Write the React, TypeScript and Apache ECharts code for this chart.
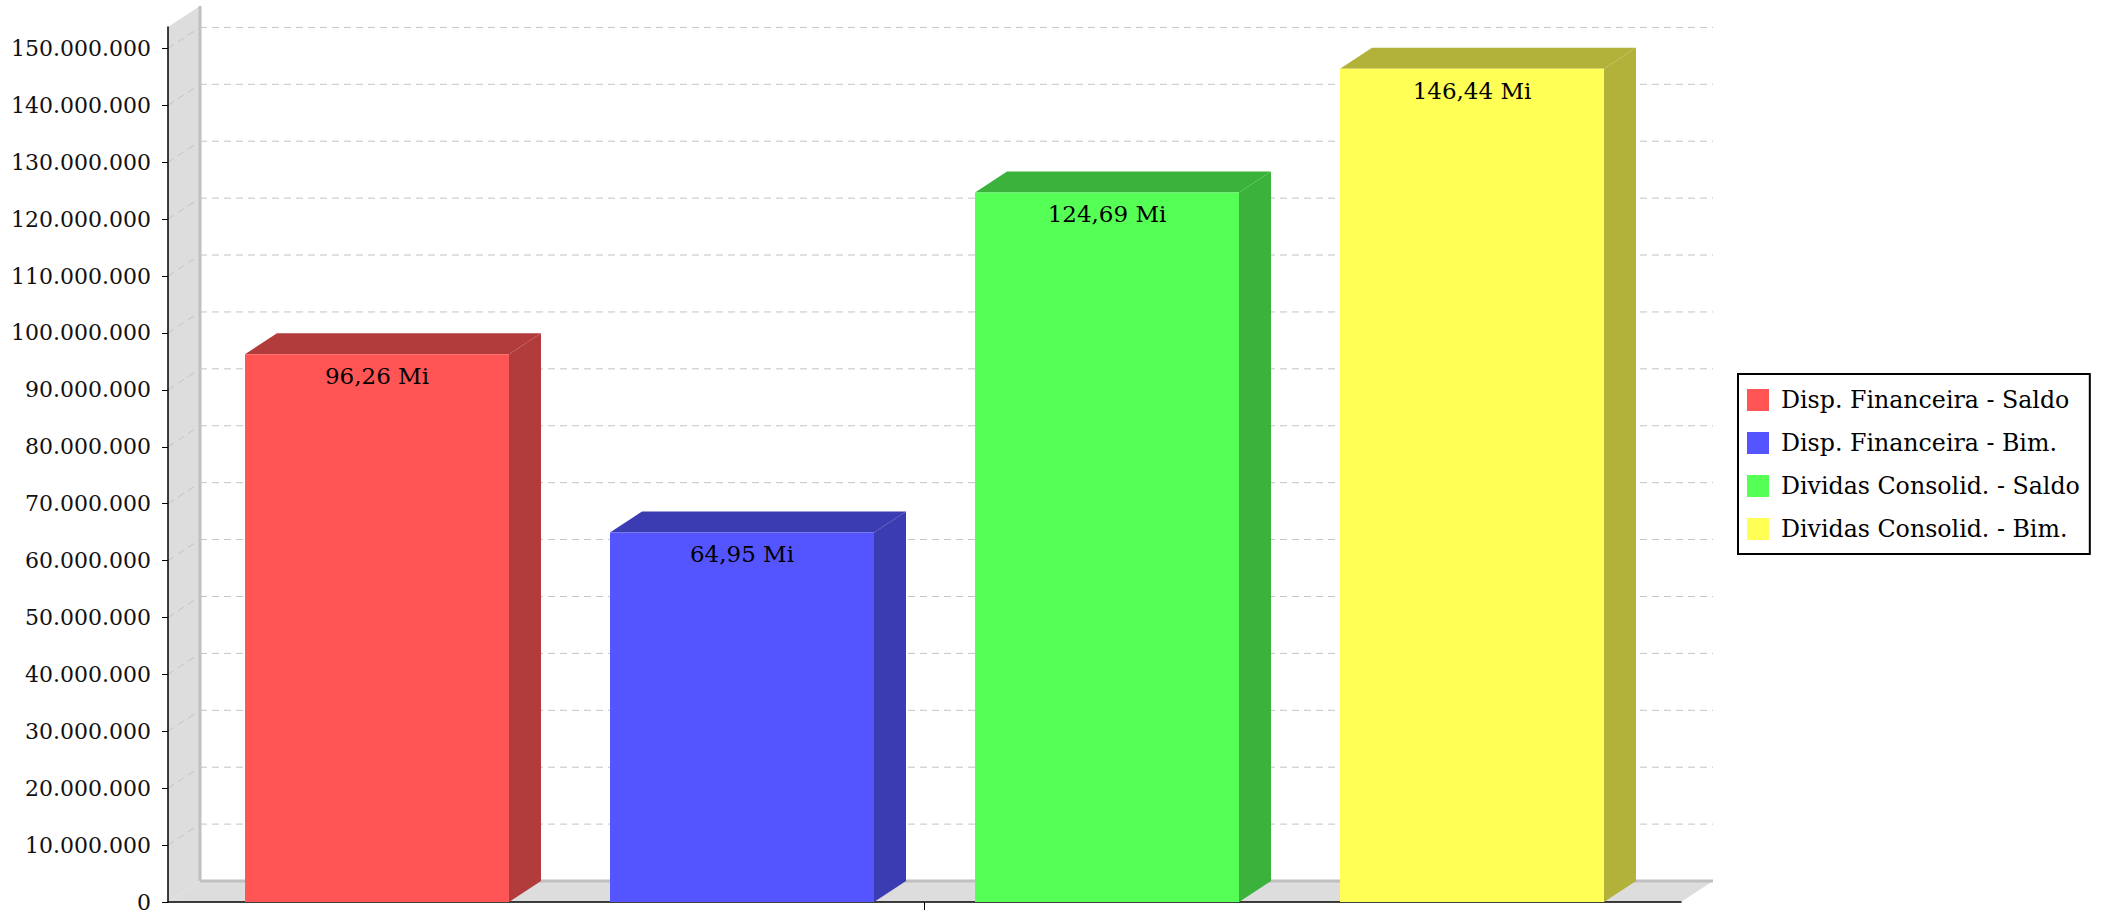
import React, { useEffect, useRef } from "react";
import * as echarts from "echarts";

const categories = [""];
const seriesNames = [
  "Disp. Financeira - Saldo",
  "Disp. Financeira - Bim.",
  "Dividas Consolid. - Saldo",
  "Dividas Consolid. - Bim.",
];
const seriesValues = [96260000, 64950000, 124690000, 146440000];
const seriesColors = ["#FF5555", "#5555FF", "#55FF55", "#FFFF55"];
const sideColors = ["#B23B3B", "#3B3BB2", "#3BB23B", "#B2B23B"];
const yTicks = [
  0, 10000000, 20000000, 30000000, 40000000, 50000000, 60000000, 70000000,
  80000000, 90000000, 100000000, 110000000, 120000000, 130000000, 140000000,
  150000000,
];

const FONT = '"DejaVu Serif", serif';
const DX = 32;
const DY = 21;
const BW = 264;
const GAP = 101;

const fmtThousands = (v: number) =>
  String(Math.round(v)).replace(/\B(?=(\d{3})+(?!\d))/g, ".");
const fmtMi = (v: number) => (v / 1e6).toFixed(2).replace(".", ",") + " Mi";

export default function App() {
  const ref = useRef<HTMLDivElement>(null);
  useEffect(() => {
    if (!ref.current) return;
    const chart = echarts.init(ref.current, null, { renderer: "svg" });
    const yMax = Math.max(...seriesValues) * 1.05;
    const n = seriesValues.length;
    const total = n * BW + (n - 1) * GAP;

    const barSeries = seriesNames.map((name, i) => ({
      name,
      type: "custom",
      z: 2,
      itemStyle: { color: seriesColors[i] },
      encode: { x: 0, y: 1 },
      data: [[0, seriesValues[i]]],
      clip: false,
      renderItem: (params: any, api: any) => {
        const top = api.coord([0, api.value(1)]);
        const base = api.coord([0, 0]);
        const left = top[0] - total / 2 + i * (BW + GAP);
        const right = left + BW;
        const yT = top[1];
        const yB = base[1];
        return {
          type: "group",
          children: [
            {
              type: "polygon",
              shape: { points: [[left, yT], [left + DX, yT - DY], [right + DX, yT - DY], [right, yT]] },
              style: { fill: sideColors[i] },
            },
            {
              type: "polygon",
              shape: { points: [[right, yT], [right + DX, yT - DY], [right + DX, yB - DY], [right, yB]] },
              style: { fill: sideColors[i] },
            },
            {
              type: "rect",
              shape: { x: left, y: yT, width: BW, height: yB - yT },
              style: { fill: seriesColors[i] },
            },
            {
              type: "text",
              x: left + BW / 2,
              y: yT + 22,
              style: {
                text: fmtMi(api.value(1)),
                fill: "#000",
                fontSize: 23,
                fontFamily: FONT,
                align: "center",
                verticalAlign: "middle",
              },
            },
          ],
        };
      },
    }));

    const frameSeries = {
      name: "frame",
      type: "custom",
      z: -1,
      silent: true,
      clip: false,
      encode: { x: 0, y: 1 },
      data: [[0, 0]],
      renderItem: (params: any, api: any) => {
        const cs = params.coordSys;
        const x = cs.x;
        const y = cs.y;
        const w = cs.width;
        const h = cs.height;
        const children: any[] = [
          {
            type: "polygon",
            shape: { points: [[x, y], [x + DX, y - DY], [x + DX, y + h - DY], [x, y + h]] },
            style: { fill: "#DDDDDD" },
          },
          {
            type: "polygon",
            shape: { points: [[x, y + h], [x + DX, y + h - DY], [x + w + DX, y + h - DY], [x + w, y + h]] },
            style: { fill: "#DDDDDD" },
          },
          {
            type: "line",
            shape: { x1: x + DX, y1: y - DY, x2: x + DX, y2: y + h - DY },
            style: { stroke: "#C0C0C0", lineWidth: 3 },
          },
          {
            type: "line",
            shape: { x1: x + DX, y1: y + h - DY, x2: x + w + DX, y2: y + h - DY },
            style: { stroke: "#C0C0C0", lineWidth: 3 },
          },
        ];
        yTicks.forEach((t) => {
          if (t === 0) return;
          const yt = api.coord([0, t])[1];
          children.push({
            type: "line",
            shape: { x1: x + DX, y1: yt - DY, x2: x + w + DX, y2: yt - DY },
            style: { stroke: "#C4C4C4", lineWidth: 1, lineDash: [7, 5] },
          });
          children.push({
            type: "line",
            shape: { x1: x, y1: yt, x2: x + DX, y2: yt - DY },
            style: { stroke: "#C4C4C4", lineWidth: 1, lineDash: [7, 5] },
          });
        });
        return { type: "group", children };
      },
    };

    chart.setOption({
      animation: false,
      backgroundColor: "#FFFFFF",
      grid: { left: 168, right: 424, top: 27, bottom: 11, containLabel: false },
      legend: {
        data: seriesNames,
        orient: "vertical",
        left: 1738,
        top: 374,
        icon: "rect",
        itemWidth: 22,
        itemHeight: 22,
        itemGap: 19,
        padding: [14, 10, 13, 9],
        borderColor: "#000",
        borderWidth: 2,
        textStyle: { fontSize: 23.7, fontFamily: FONT, color: "#000", padding: [0, 0, 0, 7] },
      },
      xAxis: {
        type: "category",
        data: categories,
        axisLine: { show: true, lineStyle: { color: "#000", width: 1.5 } },
        axisTick: { show: true, alignWithLabel: true, length: 8, lineStyle: { color: "#000" } },
        axisLabel: { show: false },
        splitLine: { show: false },
      },
      yAxis: {
        type: "value",
        min: 0,
        max: yMax,
        interval: 10000000,
        axisLine: { show: true, lineStyle: { color: "#000", width: 1.5 } },
        axisTick: { show: true, length: 6, lineStyle: { color: "#000" }, customValues: yTicks },
        axisLabel: {
          customValues: yTicks,
          margin: 17,
          fontSize: 22,
          fontFamily: FONT,
          color: "#111",
          formatter: (v: number) => fmtThousands(v),
        },
        splitLine: { show: false },
      },
      series: [frameSeries, ...barSeries],
    });
    return () => chart.dispose();
  }, []);
  return (
    <div
      ref={ref}
      style={{ position: "fixed", left: 0, top: 0, width: 2105, height: 913, background: "#fff" }}
    />
  );
}
